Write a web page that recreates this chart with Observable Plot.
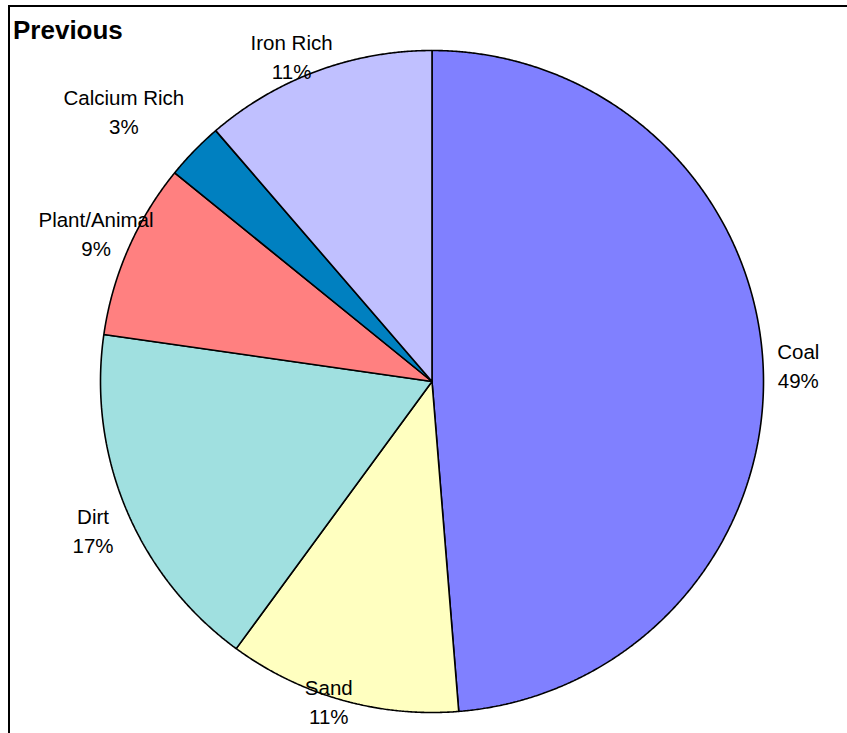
<!DOCTYPE html>
<html>
<head>
<meta charset="utf-8">
<script src="https://cdn.jsdelivr.net/npm/d3@7"></script>
<script src="https://cdn.jsdelivr.net/npm/@observablehq/plot@0.6"></script>
<style>
  html, body { margin: 0; padding: 0; background: #fff; overflow: hidden; }
  #wrap { position: relative; width: 847px; height: 733px; overflow: hidden; background: #fff; }
  #chart { position: absolute; left: 0; top: 0; }
  #frame { position: absolute; left: 8px; top: 5px; width: 1200px; height: 1200px;
           border: 2px solid #000; pointer-events: none; }
  #title { position: absolute; left: 13px; top: 17px; font: bold 26px/26px "Liberation Sans", Arial, sans-serif;
           color: #000; white-space: nowrap; }
</style>
</head>
<body>
<div id="wrap">
  <div id="chart"></div>
  <div id="frame"></div>
  <div id="title">Previous</div>
</div>
<script>
// ---- data ----
const categories = ["Coal", "Sand", "Dirt", "Plant/Animal", "Calcium Rich", "Iron Rich"];
const shares = [48.71, 11.34, 17.21, 8.59, 2.83, 11.31];
const sliceColors = ["#8080FF", "#FFFFC0", "#A0E0E0", "#FF8080", "#0080C0", "#C0C0FF"];

// ---- layout ----
const W = 847, H = 733;
const margins = {left: 100, right: 84, top: 50, bottom: 21};
const fontSize = 20.5, linePx = 29;
const fontFamily = "Liberation Sans, Arial, sans-serif";
const labelPad = 14.5;            // gap between pie edge and label box
const labelBounds = {left: 38, top: 28, bottom: 731};

const innerW = W - margins.left - margins.right;
const innerH = H - margins.top - margins.bottom;
const cx = margins.left + innerW / 2, cy = margins.top + innerH / 2;
const R = Math.min(innerW, innerH) / 2;

const total = d3.sum(shares);
const arcs = d3.pie().sort(null).value(d => d)(shares);

// polygon points for each slice (unit circle, data space)
const points = [];
arcs.forEach((a, i) => {
  const name = categories[i];
  points.push({name, x: 0, y: 0});
  const n = Math.max(2, Math.ceil((a.endAngle - a.startAngle) / (Math.PI / 720)));
  for (let k = 0; k <= n; k++) {
    const t = a.startAngle + (a.endAngle - a.startAngle) * k / n;
    points.push({name, x: Math.sin(t), y: Math.cos(t)});
  }
  points.push({name, x: 0, y: 0});
});

// label placement (Excel-like: box hugs the pie edge at the mid-angle)
const ctx = document.createElement("canvas").getContext("2d");
ctx.font = `${fontSize}px "Liberation Sans", Arial, sans-serif`;
const clamp = (v, lo, hi) => Math.max(lo, Math.min(hi, v));
const labels = arcs.map((a, i) => {
  const m = (a.startAngle + a.endAngle) / 2;
  const lines = [categories[i], `${Math.round(shares[i] / total * 100)}%`];
  const hw = d3.max(lines, s => ctx.measureText(s).width) / 2;
  const hh = linePx;
  const dx = Math.sin(m), dy = -Math.cos(m);            // screen direction
  const px = cx + (R + labelPad) * dx, py = cy + (R + labelPad) * dy;
  let lx = px + clamp(Math.SQRT2 * dx, -1, 1) * hw;
  let ly = py + clamp(Math.SQRT2 * dy, -1, 1) * hh;
  if (lx < labelBounds.left + hw) {
    // pushed in from the left edge: slide along the mid-angle ray
    lx = labelBounds.left + hw;
    ly = cy + dy * (lx - cx) / dx;
  }
  ly = clamp(ly, labelBounds.top + hh, labelBounds.bottom - hh);
  return {
    text: lines.join("\n"),
    x: (lx - cx) / (innerW / 2),
    y: -(ly - cy) / (innerH / 2)
  };
});

const chart = Plot.plot({
  width: W,
  height: H,
  marginLeft: margins.left,
  marginRight: margins.right,
  marginTop: margins.top,
  marginBottom: margins.bottom,
  style: {background: "transparent", overflow: "visible"},
  x: {domain: [-1, 1], axis: null},
  y: {domain: [-1, 1], axis: null},
  color: {domain: categories, range: sliceColors},
  marks: [
    Plot.line(points, {
      x: "x", y: "y", z: "name", fill: "name",
      stroke: "#000", strokeWidth: 1.6, strokeLinejoin: "miter", curve: "linear"
    }),
    Plot.text(labels, {
      x: "x", y: "y", text: "text", dy: -2,
      fontSize, lineHeight: linePx / fontSize,
      fontFamily,
      fill: "#000"
    })
  ]
});
document.getElementById("chart").appendChild(chart);
</script>
</body>
</html>
